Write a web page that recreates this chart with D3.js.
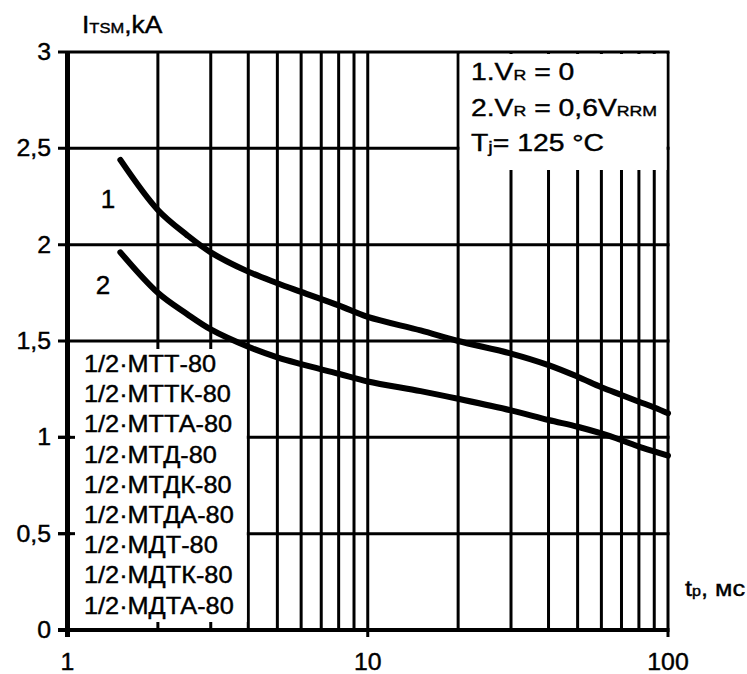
<!DOCTYPE html>
<html>
<head>
<meta charset="utf-8">
<script src="https://cdnjs.cloudflare.com/ajax/libs/d3/7.8.5/d3.min.js"></script>
<style>
  body { margin: 0; background: #fff; }
  text { font-family: "Liberation Sans", Arial, sans-serif; fill: #000; stroke: #000; stroke-width: 0.4px; }
</style>
</head>
<body>
<div id="chart"></div>
<script>
// tp, ms (log axis)
const tp = [1.5, 2, 2.5, 3, 4, 5, 6, 8, 10, 15, 20, 30, 40, 50, 60, 70, 80, 90, 100];
// curve 1: VR = 0
const itsm1 = [2.44, 2.18, 2.05, 1.96, 1.86, 1.80, 1.755, 1.685, 1.625, 1.555, 1.50, 1.435, 1.375, 1.315, 1.26, 1.22, 1.185, 1.155, 1.125];
// curve 2: VR = 0,6 VRRM
const itsm2 = [1.96, 1.75, 1.64, 1.56, 1.47, 1.415, 1.38, 1.33, 1.29, 1.24, 1.20, 1.14, 1.09, 1.055, 1.02, 0.985, 0.952, 0.927, 0.905];

const yTicks = [0, 0.5, 1, 1.5, 2, 2.5, 3];
const yTickLabels = ['0', '0,5', '1', '1,5', '2', '2,5', '3'];
const xMajor = [1, 10, 100];
const xMinor = [2, 3, 4, 5, 6, 7, 8, 9, 20, 30, 40, 50, 60, 70, 80, 90];
const devices = ['1/2·МТТ-80', '1/2·МТТК-80', '1/2·МТТА-80', '1/2·МТД-80', '1/2·МТДК-80',
                 '1/2·МТДА-80', '1/2·МДТ-80', '1/2·МДТК-80', '1/2·МДТА-80'];

const width = 747, height = 674;
const x = d3.scaleLog().domain([1, 100]).range([67.5, 668]);
const y = d3.scaleLinear().domain([0, 3]).range([630, 52]);

const svg = d3.select('#chart').append('svg')
  .attr('width', width)
  .attr('height', height);

// text is drawn a bit wider than Liberation Sans, like the scan
const place = (sel, px, py, sx) => sel.attr('transform', `translate(${px},${py}) scale(${sx},1)`);

// vertical grid lines
const xAll = xMinor.concat(xMajor);
svg.selectAll('.vgrid')
  .data(xAll)
  .enter().append('line')
  .attr('x1', d => x(d)).attr('x2', d => x(d))
  .attr('y1', y(3))
  .attr('y2', d => xMajor.includes(d) ? y(0) + 7 : y(0))
  .style('stroke', '#000')
  .style('stroke-width', d => d === 1 ? 5 : 3);

// horizontal grid lines
svg.selectAll('.hgrid')
  .data(yTicks)
  .enter().append('line')
  .attr('x1', 58).attr('x2', x(100) + 1.5)
  .attr('y1', d => y(d)).attr('y2', d => y(d))
  .style('stroke', '#000')
  .style('stroke-width', d => d === 0 ? 4 : 3);

// box for device list (hides grid)
svg.append('rect')
  .attr('x', 70.5).attr('y', y(1.5) + 8)
  .attr('width', x(4) - 1.5 - 70.5)
  .attr('height', y(0) - 8 - (y(1.5) + 8))
  .style('fill', '#fff');
// left axis ticks on 0.5 and 1 stay visible
svg.selectAll('.ltick')
  .data([0.5, 1])
  .enter().append('line')
  .attr('x1', 58).attr('x2', 75)
  .attr('y1', d => y(d)).attr('y2', d => y(d))
  .style('stroke', '#000').style('stroke-width', 3);
svg.append('line')
  .attr('x1', x(1)).attr('x2', x(1))
  .attr('y1', y(3)).attr('y2', y(0) + 7)
  .style('stroke', '#000').style('stroke-width', 5);

// box for conditions
svg.append('rect')
  .attr('x', x(20) + 1.5).attr('y', y(3) + 2)
  .attr('width', x(100) - 1.5 - x(20) - 1.5)
  .attr('height', 170 - y(3) - 2)
  .style('fill', '#fff');

// curves
const line = d3.line()
  .x(d => x(d[0]))
  .y(d => y(d[1]))
  .curve(d3.curveCatmullRom.alpha(0.5));

[itsm1, itsm2].forEach(vals => {
  svg.append('path')
    .datum(tp.map((t, i) => [t, vals[i]]))
    .attr('d', line)
    .style('fill', 'none')
    .style('stroke', '#000')
    .style('stroke-width', 6)
    .style('stroke-linecap', 'round');
});

// y tick labels
svg.selectAll('.ylab')
  .data(yTicks)
  .enter().append('text')
  .each(function (d) { place(d3.select(this), 51, y(d) + 8, 1.08); })
  .attr('text-anchor', 'end')
  .style('font-size', '23px')
  .text((d, i) => yTickLabels[i]);

// x tick labels
svg.selectAll('.xlab')
  .data(xMajor)
  .enter().append('text')
  .each(function (d) { place(d3.select(this), x(d), 670, 1.08); })
  .attr('text-anchor', 'middle')
  .style('font-size', '23px')
  .text(d => d);

// axis titles
const yt = place(svg.append('text'), 82, 33, 1.1).style('font-size', '24px');
yt.append('tspan').text('I');
yt.append('tspan').style('font-size', '15px').text('TSM');
yt.append('tspan').text(',kA');

const xt = place(svg.append('text'), 685, 596, 1.15).style('font-size', '22px');
xt.append('tspan').text('t');
xt.append('tspan').style('font-size', '14px').text('p');
xt.append('tspan').text(', мс');

// curve numbers
svg.append('text').attr('x', 108).attr('y', 208).attr('text-anchor', 'middle')
  .style('font-size', '26px').text('1');
svg.append('text').attr('x', 103).attr('y', 294).attr('text-anchor', 'middle')
  .style('font-size', '26px').text('2');

// conditions
const c1 = place(svg.append('text'), 471, 80, 1.18).style('font-size', '24px');
c1.append('tspan').text('1.V');
c1.append('tspan').style('font-size', '15px').text('R');
c1.append('tspan').text(' = 0');
const c2 = place(svg.append('text'), 471, 116, 1.18).style('font-size', '24px');
c2.append('tspan').text('2.V');
c2.append('tspan').style('font-size', '15px').text('R');
c2.append('tspan').text(' = 0,6V');
c2.append('tspan').style('font-size', '15px').text('RRM');
const c3 = place(svg.append('text'), 471, 151, 1.18).style('font-size', '24px');
c3.append('tspan').text('T');
c3.append('tspan').attr('dy', 2).style('font-size', '17px').text('j');
c3.append('tspan').attr('dy', -2).text('= 125 °C');

// device list
svg.selectAll('.dev')
  .data(devices)
  .enter().append('text')
  .each(function (d, i) { place(d3.select(this), 84, 372 + i * 30.2, 1.1); })
  .style('font-size', '23px')
  .text(d => d);
</script>
</body>
</html>
